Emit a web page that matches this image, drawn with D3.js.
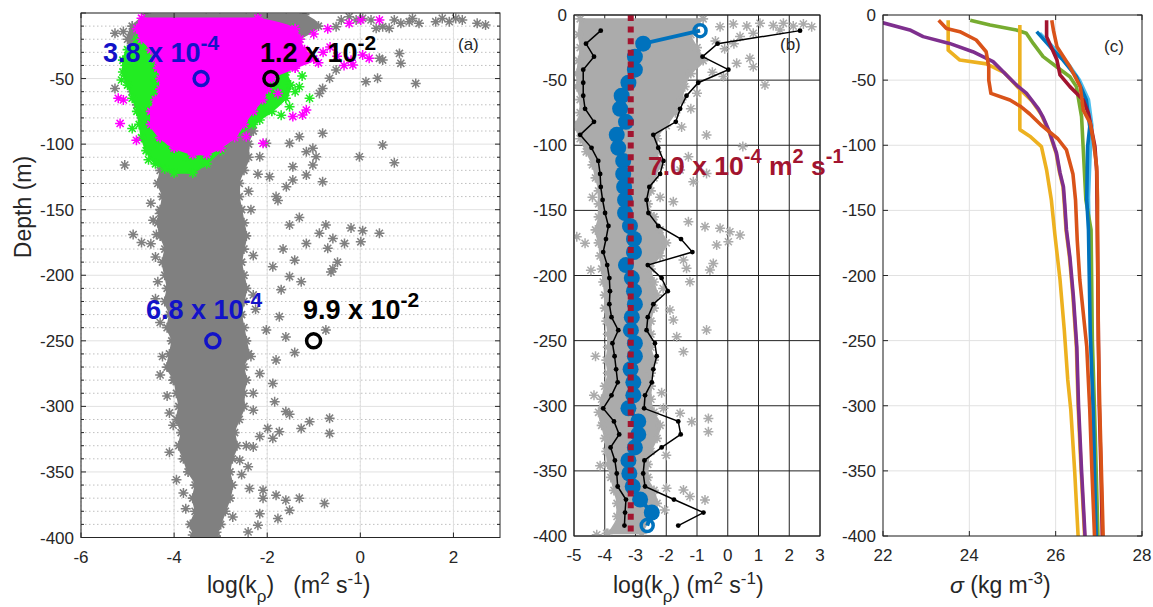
<!DOCTYPE html>
<html>
<head>
<meta charset="utf-8">
<script src="https://cdn.jsdelivr.net/npm/d3@7"></script>
<style>
  body { margin: 0; background: #fff; }
  svg { display: block; }
  text { font-family: "Liberation Sans", Arial, Helvetica, sans-serif; }
</style>
</head>
<body>
<svg id="fig" width="1153" height="607"></svg>
<script>
// ---------------- shared axis ticks ----------------
const depthTicks = [0, -50, -100, -150, -200, -250, -300, -350, -400];
const depthMinor = [-10, -20, -30, -40, -60, -70, -80, -90, -110, -120, -130, -140, -160, -170, -180, -190,
  -210, -220, -230, -240, -260, -270, -280, -290, -310, -320, -330, -340, -360, -370, -380, -390];
const aXTicks = [-6, -4, -2, 0, 2];
const bXTicks = [-5, -4, -3, -2, -1, 0, 1, 2, 3];
const cXTicks = [22, 24, 26, 28];

// ---------------- panel (a): log10 diffusivity scatter ----------------
// dense core of all casts: depth, left and right edge of the cloud
const aGrayDepth = [-1, -10, -20, -30, -40, -50, -60, -70, -80, -90, -100, -110, -120, -130, -140, -150, -160, -170, -180, -190,
  -200, -210, -220, -230, -240, -250, -260, -270, -280, -290, -300, -310, -320, -330, -340, -350, -360, -370, -380, -390, -399];
const aGrayLo = [-4.6, -4.9, -5.0, -4.9, -4.9, -5.0, -4.9, -4.8, -4.7, -4.6, -4.5, -4.4, -4.3, -4.35, -4.25, -4.3, -4.35, -4.3, -4.2, -4.25,
  -4.2, -4.15, -4.2, -4.1, -4.15, -4.05, -4.1, -4.15, -4.0, -3.95, -3.9, -3.95, -3.85, -3.9, -3.8, -3.7, -3.55, -3.6, -3.55, -3.65, -3.55];
const aGrayHi = [-1.2, -0.9, -1.3, -1.6, -1.8, -1.9, -2.0, -2.0, -2.2, -2.3, -2.4, -2.4, -2.5, -2.6, -2.6, -2.55, -2.5, -2.45, -2.5, -2.55,
  -2.5, -2.45, -2.5, -2.55, -2.5, -2.45, -2.4, -2.5, -2.45, -2.5, -2.5, -2.6, -2.7, -2.65, -2.75, -2.8, -2.75, -2.8, -2.9, -3.0, -3.1];
// scattered samples outside (or on the rim of) the core: [log10 k, depth]
const aGrayOutliers = [
  [-3.31, -4.1], [-3.02, -4.1], [-2.74, -5.3], [-2.45, -4.1], [-2.16, -5.3], [-1.81, -5.3], [-1.59, -4.1], [-1.31, -5.3],
  [-1.02, -9.2], [-0.52, -10.4], [-0.41, -5.3], [-0.24, -2.8], [-0.09, -5.3], [0.05, -4.1], [0.23, -5.3], [0.34, -11.7],
  [0.48, -10.4], [0.62, -11.7], [0.73, -5.3], [0.87, -7.9], [1.05, -6.6], [1.12, -4.1], [1.26, -7.9], [1.62, -6.6],
  [1.76, -4.1], [1.91, -6.6], [2.05, -4.1], [2.19, -5.3], [2.51, -7.9], [2.69, -9.2],
  [0.48, -35.9], [0.41, -34.6], [0.84, -30.8], [0.87, -38.4], [0.12, -52.4], [0.37, -49.8], [1.19, -53.7],
  [-0.81, -57.5], [-0.66, -49.8], [-0.52, -43.5], [-0.88, -61.3], [-0.81, -91.8], [0.48, -100.7], [-0.02, -109.6],
  [0.73, -114.2], [-1.31, -94.3], [-1.52, -99.4], [-1.16, -105.8], [-1.02, -103.2], [-0.95, -109.6], [-1.45, -117.2],
  [-0.81, -128.6], [-1.16, -123.6], [-1.02, -116], [-1.81, -140], [-1.59, -132.5], [-1.45, -127.4], [-1.95, -124.8],
  [-2.16, -109.6], [-2.02, -99.4], [-5.27, -15.5], [-5.09, -14.2], [-5.27, -57.5], [-5.06, -116],
  [-4.88, -169], [-4.70, -175], [-4.38, -169], [-4.31, -153], [-1.77, -143], [-1.31, -156], [-1.52, -161.7],
  [-1.16, -175.7], [-0.74, -161.7], [-0.88, -168], [-0.59, -172], [-0.70, -179.5], [-0.34, -175.7], [-0.2, -164],
  [0.05, -166], [0.01, -174.5], [0.41, -168], [-0.49, -190], [-0.59, -195], [-0.63, -197.5], [-1.41, -188.5],
  [-1.66, -180], [-1.52, -201], [-1.27, -205], [-1.7, -211], [-1.88, -193.5], [-1.74, -231.6], [-2.02, -241.8],
  [-1.81, -264.7], [-1.6, -247], [-1.41, -259], [-1.88, -282.5], [-2.16, -275], [-0.74, -241.8], [-3.91, -254.5],
  [-4.09, -270], [-4.02, -280],
  [-4.02, -314.3], [-1.84, -296.5], [-1.6, -304], [-1.52, -306], [-0.66, -309], [-0.66, -320.6], [-1.09, -311.7],
  [-1.27, -316.8], [-1.99, -316.8], [-1.88, -324.4], [-1.74, -319.3], [-2.16, -323], [-2.3, -331], [-2.59, -341],
  [-2.41, -346], [-2.38, -362.6], [-2.09, -363.9], [-2.09, -370], [-1.81, -367.7], [-1.6, -371.5], [-1.31, -370],
  [-1.52, -379.3], [-0.77, -374], [-1.77, -385.6], [-2.16, -381.8], [-2.2, -390.7], [-2.41, -395.8], [-2.74, -384.3],
  [-3.09, -384], [-3.31, -392], [-3.6, -398], [-3.38, -399], [-3.09, -396],
  [-4.5, -145], [-4.45, -158], [-4.5, -176], [-4.4, -186], [-4.35, -205], [-4.4, -218], [-4.3, -236], [-4.25, -262],
  [-4.3, -276], [-4.15, -292], [-4.1, -305], [-4.1, -335], [-3.95, -356], [-3.8, -366], [-3.75, -378],
  [-2.35, -150], [-2.3, -185], [-2.3, -215], [-2.35, -262], [-2.3, -290], [-2.45, -330], [-2.55, -352], [-2.4, -136],
  [-2.2, -123], [-2.25, -226], [-2.3, -303]
];
// upper-layer subsets (green and magenta)
const aGreenDepth = [-12, -20, -28, -36, -45, -55, -65, -75, -85, -95, -105, -115, -122];
const aGreenLo = [-4.6, -4.8, -5.0, -5.1, -5.1, -5.0, -4.9, -4.8, -4.75, -4.7, -4.6, -4.4, -4.0];
const aGreenHi = [-2.0, -1.8, -1.7, -1.7, -1.6, -1.5, -1.6, -1.9, -2.3, -2.7, -3.0, -3.3, -3.6];
const aGreenOutliers = [[-5.13, -51.1], [-1.09, -65], [-1.31, -56.2], [-1.52, -71.5], [-2.16, -81.6], [-3.74, -109.6],
  [-3.45, -107], [-1.88, -41], [-1.45, -11.7], [-2.45, -13], [-1.25, -48], [-1.4, -60], [-1.7, -78], [-5.05, -40],
  [-4.95, -33], [-4.9, -88], [-4.55, -112], [-4.2, -119], [-2.0, -22]];
const aMagentaDepth = [-4, -12, -20, -28, -35, -42, -50, -58, -66, -75, -85, -95, -103, -108];
const aMagentaLo = [-4.7, -4.8, -4.7, -4.5, -4.4, -4.35, -4.3, -4.3, -4.4, -4.5, -4.5, -4.3, -4.0, -3.6];
const aMagentaHi = [-2.2, -1.4, -1.3, -1.2, -1.0, -1.4, -1.9, -2.0, -2.1, -2.3, -2.5, -2.7, -3.0, -3.3];
const aMagentaOutliers = [[-5.2, -65], [-5.09, -66.3], [-5.16, -84.2], [-4.81, -97], [-0.24, -7.9], [0.01, -5.3],
  [0.41, -5.3], [0.19, -34.6], [-0.16, -39.7], [-1.24, -77.8], [-1.16, -74], [-1.45, -79], [-2.09, -99.4],
  [-2.16, -60], [-1.77, -61.3], [-2.59, -66.3], [-2.45, -94.3], [-0.8, -30], [-0.5, -33], [-0.2, -36], [0.05, -32],
  [-0.35, -40], [-0.65, -26], [-0.9, -38], [-1.0, -16], [-0.7, -12]];
// layer means (m^2 s^-1) at the layer mid-depths
const aMeanDepth = [-50, -250];
const aGeoMean = [3.8e-4, 6.8e-4];
const aArithMean = [1.2e-2, 9.9e-2];

// ---------------- panel (b): binned statistics ----------------
const bBinDepth = [-12, -22, -32, -42, -52, -62, -72, -82, -92, -102, -112, -122, -132, -142, -152, -162, -172, -182, -192, -202,
  -212, -222, -232, -242, -252, -262, -272, -282, -292, -302, -312, -322, -332, -342, -352, -362, -372, -382, -392];
const bMedian = [-0.90, -2.75, -3.02, -3.02, -3.23, -3.45, -3.50, -3.31, -3.61, -3.56, -3.40, -3.40, -3.37, -3.34, -3.34, -3.18,
  -3.05, -3.05, -3.31, -3.12, -3.05, -3.02, -3.12, -3.15, -3.02, -3.02, -3.16, -3.07, -3.07, -3.23, -2.91, -2.91, -3.02,
  -3.23, -3.20, -3.09, -2.85, -2.47, -2.62];
const bLow = [-4.13, -4.61, -4.35, -4.70, -4.70, -4.70, -4.64, -4.35, -4.80, -4.43, -4.21, -4.15, -4.13, -4.07, -3.99, -3.88,
  -3.96, -4.05, -3.92, -3.85, -3.83, -3.85, -3.78, -3.56, -3.75, -3.68, -3.63, -3.58, -3.78, -4.05, -3.70, -3.53, -3.81,
  -3.67, -3.61, -3.58, -3.31, -3.34, -3.36];
const bHigh = [2.35, -0.33, -0.82, 0.02, -0.96, -1.34, -1.55, -1.69, -2.42, -2.26, -2.09, -2.20, -2.55, -2.64, -2.58, -2.26,
  -1.52, -1.15, -2.60, -2.15, -1.95, -2.42, -2.60, -2.64, -2.37, -2.31, -2.42, -2.47, -2.69, -2.72, -1.61, -1.53, -2.15,
  -2.71, -2.75, -2.69, -1.75, -0.79, -1.61];
const bOverallMean = 7.0e-4;
const bCloudDepth = [-3, -15, -25, -35, -45, -55, -65, -75, -85, -95, -105, -115, -125, -135, -145, -155, -165, -175, -185, -195,
  -205, -215, -225, -235, -245, -255, -265, -275, -285, -295, -305, -315, -325, -335, -345, -355, -365, -375, -385, -398];
const bCloudLo = [-4.8, -4.85, -4.8, -4.85, -4.9, -4.9, -4.8, -4.8, -4.95, -4.8, -4.6, -4.4, -4.3, -4.2, -4.2, -4.2, -4.3, -4.2,
  -4.15, -4.1, -4.05, -4.0, -4.0, -3.95, -3.9, -3.9, -3.95, -3.9, -4.0, -4.1, -4.2, -4.1, -4.0, -3.95, -3.9, -3.8, -3.7, -3.6, -3.6, -3.9];
const bCloudHi = [-0.8, -1.2, -1.0, -0.8, -1.2, -1.4, -1.5, -1.7, -2.0, -2.3, -2.3, -2.2, -2.4, -2.5, -2.6, -2.4, -2.2, -2.0,
  -2.2, -2.5, -2.4, -2.3, -2.4, -2.5, -2.5, -2.5, -2.4, -2.5, -2.5, -2.5, -2.4, -2.2, -2.3, -2.5, -2.6, -2.6, -2.4, -2.3, -2.5, -2.8];
const bCloudOutliers = [
  [-0.25, -9], [0.18, -6.9], [0.62, -8.5], [1.05, -6.4], [1.48, -8], [1.81, -6.4], [2.13, -8.5], [2.46, -6.9], [2.73, -9],
  [1.70, -11.5], [0.83, -14], [0.40, -16.6], [0.72, -33.3], [0.83, -39.7], [0.29, -37.1], [-0.14, -47.3], [1.21, -53.7],
  [-0.69, -92.1], [0.49, -101], [-1.28, -108.8], [-1.55, -119], [-1.12, -128], [-0.69, -121.6],
  [-4.91, -170.2], [-4.64, -175.3], [-1.77, -143.3], [-1.28, -158.7], [-0.74, -162.5], [-0.25, -163.8], [0.07, -166.4],
  [0.40, -169], [0.02, -174.1], [-0.36, -176.6], [-0.47, -190.7], [-0.58, -195.8], [-1.34, -194.5], [-1.44, -188.1],
  [-1.23, -204.8], [-0.69, -241.8], [-1.44, -258.5], [-1.66, -247], [-1.88, -226.5], [-1.77, -234.2],
  [-0.63, -309.7], [-0.63, -320], [-1.17, -312.3], [-1.55, -305.8], [-2.09, -302], [-4.05, -313.5], [-0.74, -372.3],
  [-1.23, -369.7], [-1.44, -364.6], [-1.99, -363.3], [-3.94, -398], [-4.26, -399],
  [-0.4, -20], [-0.1, -26], [0.2, -22], [-0.5, -44], [-1.0, -60], [-1.2, -72], [-1.5, -86], [-4.4, -140], [-4.45, -196],
  [-4.3, -262], [-4.35, -292], [-4.15, -346], [-2.2, -140], [-2.1, -210], [-2.15, -290], [-2.0, -338], [-2.05, -380]
];

// ---------------- panel (c): density profiles [sigma, depth] ----------------
const cLightBlue = [[25.63, -14], [25.95, -25], [26.3, -38], [26.55, -50], [26.76, -65], [26.84, -85], [26.8, -105], [26.76, -140],
  [26.79, -200], [26.86, -300], [26.93, -400]];
const cGreen = [[24.02, -4], [24.48, -7.7], [25.09, -11.5], [25.32, -14], [25.48, -21.8], [25.71, -32], [26.02, -39.7], [26.33, -47.4],
  [26.48, -55], [26.6, -78], [26.64, -103.6], [26.7, -142], [26.82, -165], [26.85, -250], [26.9, -303], [26.98, -400]];
const cBlue = [[25.56, -12.8], [25.87, -24.3], [26.17, -34.6], [26.48, -47.4], [26.71, -65.3], [26.79, -85.8], [26.74, -101],
  [26.72, -142], [26.76, -165], [26.8, -242], [26.87, -303], [26.9, -350], [26.94, -400]];
const cDarkRed = [[25.79, -4], [25.79, -16.6], [26.03, -34.6], [26.1, -46], [26.33, -55], [26.64, -65.3], [26.76, -75.5], [26.91, -101],
  [26.95, -120], [26.96, -150], [26.99, -250], [27.01, -300], [27.05, -350], [27.08, -400]];
const cYellow2 = [[25.17, -7.7], [25.17, -88], [25.4, -93], [25.67, -101], [25.79, -119], [25.9, -142], [25.98, -168], [26.1, -203],
  [26.2, -242], [26.28, -280], [26.35, -303], [26.44, -350], [26.52, -400]];
const cYellow1 = [[23.51, -4], [23.51, -27], [23.78, -34.6], [24.4, -37.5], [24.8, -44], [25.17, -57], [25.45, -66], [25.66, -76],
  [25.85, -90], [26.01, -106], [26.09, -121], [26.17, -132], [26.2, -145], [26.24, -165], [26.32, -186], [26.4, -216],
  [26.48, -255], [26.52, -300], [26.59, -350], [26.67, -400]];
const cPurple = [[21.9, -4], [22.0, -6], [22.62, -11.5], [22.93, -16.6], [23.54, -21.8], [24.08, -28.2], [24.55, -35.8], [24.86, -46],
  [25.1, -54], [25.32, -60], [25.6, -72], [25.7, -78], [25.86, -90], [26.02, -106], [26.1, -121], [26.18, -132], [26.21, -145],
  [26.25, -165], [26.33, -186], [26.41, -216], [26.49, -255], [26.53, -300], [26.6, -350], [26.68, -400]];
const cOrange1 = [[23.29, -4], [23.47, -10.3], [23.78, -12.8], [24.16, -19.2], [24.39, -28.2], [24.45, -39.7], [24.45, -50],
  [24.5, -60.2], [24.94, -65.3], [25.2, -70.5], [25.4, -76], [25.68, -85], [26.05, -95], [26.25, -103.6], [26.31, -111],
  [26.4, -122], [26.46, -142], [26.5, -173], [26.56, -203.5], [26.72, -254.6], [26.79, -303], [26.84, -350], [26.9, -400]];
const cOrange2 = [[25.91, -4], [25.95, -12], [26.03, -24.3], [26.33, -39.7], [26.57, -55], [26.64, -73], [26.8, -83], [26.87, -96],
  [26.95, -116.5], [26.97, -142], [26.97, -165], [26.99, -250], [27.02, -300], [27.06, -350], [27.1, -400]];

// ---------------- drawing ----------------
const svg = d3.select('#fig');
const AX = '#262626';
const STAR_R = 5;
const STAR = (() => { const r = STAR_R, d = r * 0.707;
  return `M${-r},0H${r}M0,${-r}V${r}M${-d},${-d}L${d},${d}M${-d},${d}L${d},${-d}`; })();

function makePanel(id, xd, xr, yr) {
  const x = d3.scaleLinear().domain(xd).range(xr);
  const y = d3.scaleLinear().domain([0, -400]).range(yr);
  svg.append('clipPath').attr('id', 'clip-' + id).append('rect')
    .attr('x', xr[0]).attr('y', yr[0]).attr('width', xr[1] - xr[0]).attr('height', yr[1] - yr[0]);
  const root = svg.append('g').attr('class', 'panel-' + id);
  return { x, y, grid: root.append('g'), plot: root.append('g').attr('clip-path', `url(#clip-${id})`), top: root.append('g') };
}

function gridLines(p, xs, ys, color, width, dash) {
  const [X0, X1] = p.x.range(), [Y0, Y1] = p.y.range();
  const g = p.grid.append('g').attr('stroke', color).attr('stroke-width', width).attr('stroke-dasharray', dash || null);
  g.selectAll(null).data(xs).join('line').attr('x1', d => p.x(d)).attr('x2', d => p.x(d)).attr('y1', Y0).attr('y2', Y1);
  g.selectAll(null).data(ys).join('line').attr('y1', d => p.y(d)).attr('y2', d => p.y(d)).attr('x1', X0).attr('x2', X1);
}

function frame(p, xTicks, yLabels, o) {
  const [X0, X1] = p.x.range(), [Y0, Y1] = p.y.range();
  const t = p.top;
  t.append('rect').attr('x', X0).attr('y', Y0).attr('width', X1 - X0).attr('height', Y1 - Y0)
    .attr('fill', 'none').attr('stroke', o.box).attr('stroke-width', 1);
  if (o.ticks) {
    const tg = t.append('g').attr('stroke', o.box).attr('stroke-width', 1);
    tg.selectAll(null).data(xTicks).join('path').attr('d', d => `M${p.x(d)},${Y1}v-5M${p.x(d)},${Y0}v5`);
    tg.selectAll(null).data(depthTicks).join('path').attr('d', d => `M${X0},${p.y(d)}h5M${X1},${p.y(d)}h-5`);
    if (o.minor) tg.selectAll(null).data(depthMinor).join('path').attr('d', d => `M${X0},${p.y(d)}h3M${X1},${p.y(d)}h-3`);
  }
  t.selectAll(null).data(xTicks).join('text').attr('x', d => p.x(d)).attr('y', Y1 + 25)
    .attr('text-anchor', 'middle').attr('font-size', 17).attr('fill', AX).text(d => String(d));
  t.selectAll(null).data(yLabels).join('text').attr('x', X0 - 7).attr('y', d => p.y(d)).attr('dy', '0.36em')
    .attr('text-anchor', 'end').attr('font-size', 17).attr('fill', AX).text(d => String(d));
}

function richText(parent, x, y, parts, o) {
  const t = parent.append('text').attr('x', x).attr('y', y).attr('font-size', o.size)
    .attr('fill', o.color || AX).attr('font-weight', o.weight || 'normal').style('white-space', 'pre');
  let shift = 0;
  parts.forEach(pt => {
    const target = pt.sup ? -o.rise : pt.sub ? o.drop : 0;
    const ts = t.append('tspan').attr('dy', target - shift).text(pt.t);
    if (pt.sup || pt.sub) ts.attr('font-size', o.small);
    if (pt.italic) ts.attr('font-style', 'italic');
    shift = target;
  });
  return t;
}

function sciParts(v) {
  const e = Math.floor(Math.log10(v));
  return [{ t: (v / Math.pow(10, e)).toFixed(1) + ' x 10' }, { t: String(e), sup: true }];
}

function stars(p, pts, color, w) {
  p.plot.append('g').attr('stroke', color).attr('stroke-width', w || 1.5).attr('fill', 'none')
    .selectAll('path').data(pts).join('path')
    .attr('transform', d => `translate(${p.x(d[0])},${p.y(d[1])})`).attr('d', STAR);
}

function cloud(p, depth, lo, hi, color) {
  const rows = depth.map((d, i) => ({ d, lo: lo[i], hi: hi[i] }));
  p.plot.append('path').datum(rows)
    .attr('d', d3.area().y(r => p.y(r.d)).x0(r => p.x(r.lo)).x1(r => p.x(r.hi)).curve(d3.curveMonotoneY))
    .attr('fill', color).attr('stroke', color).attr('stroke-width', 1.5).attr('stroke-linejoin', 'round');
  stars(p, rows.flatMap(r => [[r.lo, r.d], [r.hi, r.d]]), color, 1.7);
}

// ----- panel (a) -----
const pa = makePanel('a', [-6, 3], [81, 500], [13, 537.5]);
gridLines(pa, aXTicks, depthMinor, '#b9b9b9', 0.9, '1.5,2.5');
gridLines(pa, aXTicks, depthTicks, '#e1e1e1', 1);
cloud(pa, aGrayDepth, aGrayLo, aGrayHi, '#808080');
stars(pa, aGrayOutliers, '#808080');
cloud(pa, aGreenDepth, aGreenLo, aGreenHi, '#22ec22');
stars(pa, aGreenOutliers, '#22ec22');
cloud(pa, aMagentaDepth, aMagentaLo, aMagentaHi, '#ff00ff');
stars(pa, aMagentaOutliers, '#ff00ff');
pa.plot.selectAll('.geo').data(aGeoMean).join('circle').attr('class', 'geo')
  .attr('cx', d => pa.x(Math.log10(d))).attr('cy', (d, i) => pa.y(aMeanDepth[i])).attr('r', 7)
  .attr('fill', 'none').attr('stroke', '#1212c8').attr('stroke-width', 3.5);
pa.plot.selectAll('.ari').data(aArithMean).join('circle').attr('class', 'ari')
  .attr('cx', d => pa.x(Math.log10(d))).attr('cy', (d, i) => pa.y(aMeanDepth[i])).attr('r', 7)
  .attr('fill', 'none').attr('stroke', '#000').attr('stroke-width', 3.5);
frame(pa, aXTicks, depthTicks.slice(1), { box: AX, ticks: true, minor: true });
const aGeoPos = [[103, 62], [146, 319]], aAriPos = [[260, 62], [303, 319]];
const labOpt = { size: 27, small: 21, rise: 12, weight: 'bold' };
aGeoMean.forEach((v, i) => richText(pa.top, aGeoPos[i][0], aGeoPos[i][1], sciParts(v), { ...labOpt, color: '#1212c8' }));
aArithMean.forEach((v, i) => richText(pa.top, aAriPos[i][0], aAriPos[i][1], sciParts(v), { ...labOpt, color: '#000' }));
pa.top.append('text').attr('x', 458).attr('y', 50).attr('font-size', 17).attr('fill', AX).text('(a)');
richText(svg, 207, 593, [{ t: 'log(k' }, { t: 'ρ', sub: true }, { t: ')   (m' }, { t: '2', sup: true }, { t: ' s' }, { t: '-1', sup: true }, { t: ')' }],
  { size: 23, small: 17, rise: 9, drop: 9 });
svg.append('text').attr('transform', 'translate(31,207) rotate(-90)').attr('text-anchor', 'middle')
  .attr('font-size', 23).attr('fill', AX).text('Depth (m)');

// ----- panel (b) -----
const pb = makePanel('b', [-5, 3], [574, 820], [15, 536]);
gridLines(pb, bXTicks, depthTicks, '#222', 1);
cloud(pb, bCloudDepth, bCloudLo, bCloudHi, '#ababab');
stars(pb, bCloudOutliers, '#ababab');
const bRows = bBinDepth.map((d, i) => ({ d, m: bMedian[i], lo: bLow[i], hi: bHigh[i] }));
['lo', 'hi'].forEach(k => {
  pb.plot.append('path').datum(bRows).attr('d', d3.line().x(r => pb.x(r[k])).y(r => pb.y(r.d)))
    .attr('fill', 'none').attr('stroke', '#000').attr('stroke-width', 1.5);
  pb.plot.append('g').selectAll('circle').data(bRows).join('circle')
    .attr('cx', r => pb.x(r[k])).attr('cy', r => pb.y(r.d)).attr('r', 2.4).attr('fill', '#000');
});
const isEnd = i => i === 0 || i === bRows.length - 1;
pb.plot.append('path').datum(bRows).attr('d', d3.line().x(r => pb.x(r.m)).y(r => pb.y(r.d)))
  .attr('fill', 'none').attr('stroke', '#0072BD').attr('stroke-width', 4);
pb.plot.append('g').selectAll('circle').data(bRows).join('circle')
  .attr('cx', r => pb.x(r.m)).attr('cy', r => pb.y(r.d))
  .attr('r', (r, i) => isEnd(i) ? 6 : 8)
  .attr('fill', (r, i) => isEnd(i) ? 'none' : '#0072BD')
  .attr('stroke', '#0072BD').attr('stroke-width', (r, i) => isEnd(i) ? 3.5 : 0);
pb.plot.append('line').attr('x1', pb.x(Math.log10(bOverallMean))).attr('x2', pb.x(Math.log10(bOverallMean)))
  .attr('y1', pb.y(0)).attr('y2', pb.y(-400)).attr('stroke', '#A2142F').attr('stroke-width', 6).attr('stroke-dasharray', '6,5.6');
frame(pb, bXTicks, depthTicks, { box: '#222', ticks: false });
pb.top.append('text').attr('x', 780).attr('y', 50).attr('font-size', 17).attr('fill', AX).text('(b)');
richText(svg, 648, 175, [...sciParts(bOverallMean), { t: ' m' }, { t: '2', sup: true }, { t: ' s' }, { t: '-1', sup: true }],
  { size: 26.5, small: 20, rise: 12, weight: 'bold', color: '#A2142F' });
richText(svg, 613, 593, [{ t: 'log(k' }, { t: 'ρ', sub: true }, { t: ') (m' }, { t: '2', sup: true }, { t: ' s' }, { t: '-1', sup: true }, { t: ')' }],
  { size: 23, small: 17, rise: 9, drop: 9 });

// ----- panel (c) -----
const pc = makePanel('c', [22, 28], [883, 1142], [15, 536]);
gridLines(pc, cXTicks, depthTicks, '#e1e1e1', 1);
const cSeries = [
  [cLightBlue, '#4DBEEE'], [cGreen, '#77AC30'], [cBlue, '#0072BD'], [cDarkRed, '#A2142F'], [cYellow2, '#EDB120'],
  [cYellow1, '#EDB120'], [cPurple, '#7E2F8E'], [cOrange1, '#D95319'], [cOrange2, '#D95319']
];
const cLine = d3.line().x(d => pc.x(d[0])).y(d => pc.y(d[1]));
cSeries.forEach(([pts, col]) => {
  pc.plot.append('path').datum(pts).attr('d', cLine).attr('fill', 'none').attr('stroke', col)
    .attr('stroke-width', 3.6).attr('stroke-linejoin', 'round');
});
frame(pc, cXTicks, depthTicks, { box: AX, ticks: true, minor: false });
pc.top.append('text').attr('x', 1104).attr('y', 52).attr('font-size', 17).attr('fill', AX).text('(c)');
richText(svg, 950, 593, [{ t: 'σ', italic: true }, { t: ' (kg m' }, { t: '-3', sup: true }, { t: ')' }],
  { size: 23, small: 17, rise: 9 });
</script>
</body>
</html>
